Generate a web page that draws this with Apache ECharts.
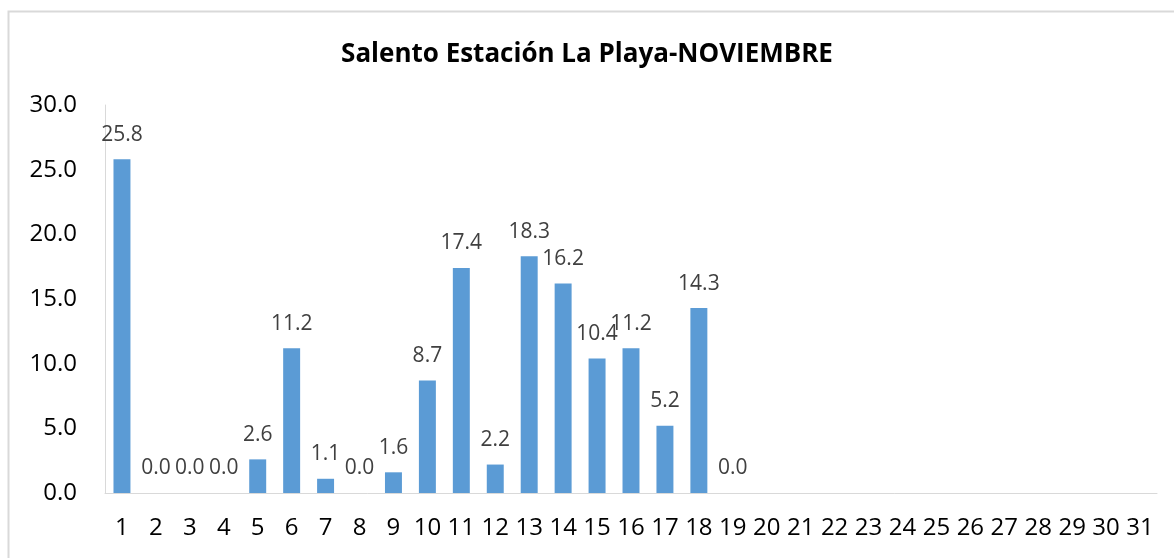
<!DOCTYPE html>
<html>
<head>
<meta charset="utf-8">
<script src="https://cdn.jsdelivr.net/npm/echarts@6/dist/echarts.min.js"></script>
<style>
  html, body { margin: 0; padding: 0; background: #fff; }
  #chart { width: 1174px; height: 558px; }
</style>
</head>
<body>
<div id="chart"></div>
<script>
// días del mes
const days = [];
for (let d = 1; d <= 31; d++) days.push(String(d));

// precipitación diaria (mm), sin datos desde el día 20
const rain = [25.8, 0.0, 0.0, 0.0, 2.6, 11.2, 1.1, 0.0, 1.6, 8.7,
              17.4, 2.2, 18.3, 16.2, 10.4, 11.2, 5.2, 14.3, 0.0,
              null, null, null, null, null, null, null, null, null, null, null, null];

const titleText = 'Salento Estación La Playa-NOVIEMBRE';

const chart = echarts.init(document.getElementById('chart'));
chart.setOption({
  animation: false,
  title: {
    text: titleText,
    left: 'center',
    top: 37,
    textStyle: { fontFamily: 'Open Sans', fontWeight: 'bold', fontSize: 26, color: '#000' }
  },
  graphic: [{
    type: 'rect',
    shape: { x: 8.5, y: 11.5, width: 1180, height: 560 },
    style: { fill: 'none', stroke: '#d9d9d9', lineWidth: 2 }
  }],
  grid: { left: 105, right: 17, top: 105, bottom: 65 },
  xAxis: {
    type: 'category',
    data: days,
    axisLine: { lineStyle: { color: '#d9d9d9', width: 1 } },
    axisTick: { show: false },
    axisLabel: { color: '#000', fontSize: 24, fontFamily: 'Open Sans', margin: 23, interval: 0 }
  },
  yAxis: {
    type: 'value',
    min: 0,
    max: 30,
    interval: 5,
    splitLine: { show: false },
    axisLine: { show: true, lineStyle: { color: '#d9d9d9', width: 1 } },
    axisTick: { show: false },
    axisLabel: {
      color: '#000', fontSize: 24, fontFamily: 'Open Sans', margin: 28,
      formatter: v => v.toFixed(1)
    }
  },
  series: [{
    type: 'bar',
    data: rain,
    barWidth: '50%',
    itemStyle: { color: '#5b9bd5' },
    label: {
      show: true,
      position: 'top',
      distance: 14,
      color: '#404040',
      fontSize: 21,
      fontFamily: 'Open Sans',
      formatter: p => p.value == null ? '' : p.value.toFixed(1)
    }
  }]
});
</script>
</body>
</html>
